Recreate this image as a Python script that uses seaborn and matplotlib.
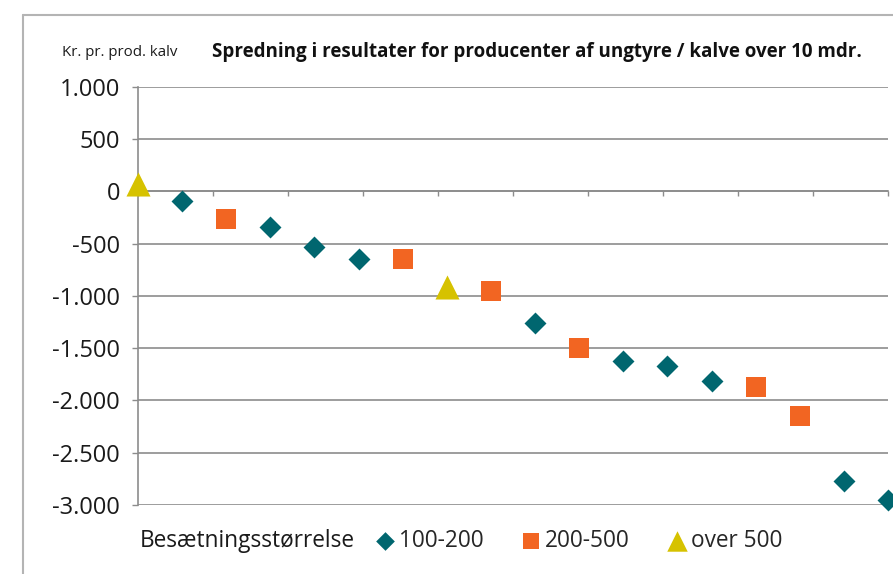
import pandas as pd
import matplotlib.pyplot as plt
import seaborn as sns
from matplotlib.lines import Line2D

# Data (producers ranked by result)
producer_rank = list(range(18))
result_kr = [70, -90, -270, -340, -530, -650, -650, -915, -950, -1260,
             -1500, -1620, -1670, -1810, -1870, -2150, -2770, -2950]
herd_size = ['over 500', '100-200', '200-500', '100-200', '100-200', '100-200',
             '200-500', 'over 500', '200-500', '100-200', '200-500', '100-200',
             '100-200', '100-200', '200-500', '200-500', '100-200', '100-200']
groups = ['100-200', '200-500', 'over 500']
y_ticks = [1000, 500, 0, -500, -1000, -1500, -2000, -2500, -3000]
y_tick_labels = ['1.000', '500', '0', '-500', '-1.000', '-1.500', '-2.000', '-2.500', '-3.000']

df = pd.DataFrame({'rank': producer_rank, 'result': result_kr, 'herd': herd_size})

colors = {'100-200': '#00666F', '200-500': '#F26522', 'over 500': '#D6C200'}
markers = {'100-200': 'D', '200-500': 's', 'over 500': '^'}
sizes = {'100-200': 125, '200-500': 190, 'over 500': 300}

sns.set_theme(style="white")
plt.rcParams['font.family'] = ['Open Sans', 'DejaVu Sans']

fig = plt.figure(figsize=(8.93, 5.74), dpi=100)
ax = fig.add_axes([0.1545, 0.1202, 0.9944 - 0.1545, 0.849 - 0.1202])

for g in groups:
    sub = df[df['herd'] == g]
    sns.scatterplot(data=sub, x='rank', y='result', marker=markers[g], s=sizes[g],
                    color=colors[g], linewidth=0, label=g, legend=False, ax=ax,
                    clip_on=False, zorder=3)

ax.set_xlim(0, 17)
ax.set_ylim(-3000, 1000)
ax.set_xlabel('')
ax.set_ylabel('')

# horizontal gridlines
for v in y_ticks:
    ax.axhline(v, color='#8c8c8c', lw=1.2, zorder=1)

ax.set_yticks(y_ticks)
ax.set_yticklabels(y_tick_labels, fontsize=17, color='#1a1a1a')
ax.tick_params(axis='y', direction='out', length=4, width=1, color='#8c8c8c', pad=9, left=True)

# x axis sits on the zero line
ax.spines['bottom'].set_position(('data', 0))
ax.spines['bottom'].set_color('#8c8c8c')
ax.spines['bottom'].set_linewidth(1.2)
ax.set_xticks([17 * i / 10 for i in range(11)])
ax.set_xticklabels([])
ax.tick_params(axis='x', direction='out', length=3.5, width=1, color='#8c8c8c', bottom=True)

ax.spines['left'].set_color('#8c8c8c')
ax.spines['left'].set_linewidth(1.2)
ax.spines['top'].set_visible(False)
ax.spines['right'].set_visible(False)

# texts
fig.text(62 / 893, 1 - 52 / 574, 'Kr. pr. prod. kalv', fontsize=10.8, color='#1a1a1a', va='center')
fig.text(212 / 893, 1 - 52 / 574,
         'Spredning i resultater for producenter af ungtyre / kalve over 10 mdr.',
         fontsize=13.5, fontweight='bold', color='#111111', va='center')
fig.text(140 / 893, 1 - 541 / 574, 'Besætningsstørrelse', fontsize=16.3, color='#1a1a1a', va='center')

handles, labels = ax.get_legend_handles_labels()
fig.legend(handles, labels, ncol=3, frameon=False, fontsize=16.3,
           loc='center left', bbox_to_anchor=(374 / 893, 1 - 541 / 574),
           handlelength=1.0, handletextpad=0.1, columnspacing=1.6, markerscale=0.85,
           borderaxespad=0, borderpad=0)

# outer chart frame (cropped at right/bottom)
fig.add_artist(Line2D([22.5 / 893, 22.5 / 893], [0, 1 - 15 / 574], color='#b4b4b4', lw=1.5))
fig.add_artist(Line2D([22.5 / 893, 1], [1 - 15 / 574, 1 - 15 / 574], color='#b4b4b4', lw=1.5))

fig.savefig('out.png', dpi=100)
